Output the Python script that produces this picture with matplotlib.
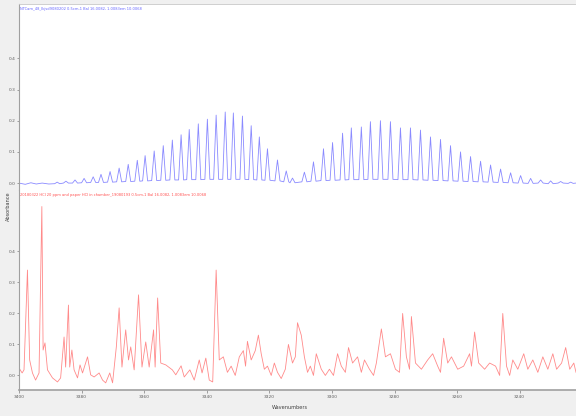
import matplotlib
matplotlib.use("Agg")
import matplotlib.pyplot as plt

# top spectrum (blue): peak centres, peak heights, baseline level around each peak
blue_wn = [3387.8, 3385.0, 3382.1, 3379.2, 3376.3, 3373.8, 3370.9, 3368.0, 3365.1, 3362.2,
           3359.7, 3356.8, 3353.9, 3351.0, 3348.2, 3345.6, 3342.7, 3339.8, 3337.0, 3334.1,
           3331.5, 3328.6, 3325.8, 3323.2, 3320.6, 3317.4, 3314.6, 3312.6,
           3308.8, 3305.9, 3302.7, 3299.8, 3296.6, 3293.8, 3290.6, 3287.7, 3284.5, 3281.3,
           3278.1, 3274.9, 3271.7, 3268.5, 3265.3, 3262.1, 3258.9, 3255.7, 3252.5, 3249.3,
           3246.1, 3242.9, 3239.7, 3236.5, 3233.3, 3230.1, 3226.9, 3223.7]
blue_h = [0.003, 0.006, 0.010, 0.015, 0.020, 0.028, 0.037, 0.048, 0.060, 0.073,
          0.088, 0.103, 0.120, 0.138, 0.155, 0.172, 0.190, 0.205, 0.218, 0.228,
          0.225, 0.215, 0.184, 0.148, 0.110, 0.074, 0.039, 0.016,
          0.035, 0.068, 0.110, 0.130, 0.160, 0.177, 0.180, 0.197, 0.200, 0.197,
          0.177, 0.177, 0.170, 0.148, 0.140, 0.120, 0.100, 0.085, 0.070, 0.058,
          0.045, 0.033, 0.024, 0.015, 0.010, 0.007, 0.005, 0.003]
blue_base = [-0.002, 0.000, 0.000, 0.001, 0.002, 0.002, 0.003, 0.004, 0.005, 0.006,
             0.007, 0.008, 0.009, 0.010, 0.010, 0.011, 0.011, 0.012, 0.012, 0.012,
             0.012, 0.012, 0.011, 0.010, 0.009, 0.007, 0.004, 0.001,
             0.004, 0.006, 0.008, 0.009, 0.010, 0.011, 0.011, 0.012, 0.012, 0.012,
             0.011, 0.011, 0.010, 0.009, 0.008, 0.007, 0.006, 0.005, 0.004, 0.003,
             0.002, 0.001, 0.000, -0.001, 0.000, -0.002, 0.000, -0.001]
blue_lead_wn = [3400.0, 3398.0, 3396.2, 3394.5, 3392.6, 3390.5]
blue_lead_abs = [0.000, -0.004, 0.001, -0.003, 0.000, -0.003]

# bottom spectrum (red), traced vertex by vertex
red_wn = [3400.0, 3399.0, 3398.4, 3397.3, 3396.6, 3395.7, 3394.7, 3393.6, 3392.7, 3392.3,
          3391.7, 3390.9, 3389.3, 3387.7, 3386.7, 3385.6, 3385.1, 3384.2, 3383.8, 3383.1,
          3382.4, 3381.3, 3380.5, 3379.7, 3378.1, 3377.1, 3376.0, 3374.4, 3373.3, 3372.3,
          3371.0, 3370.1, 3368.9, 3368.0, 3367.1, 3365.9, 3365.0, 3364.3, 3363.2, 3361.8,
          3360.7, 3359.5, 3358.4, 3357.0, 3356.5, 3355.7, 3354.7, 3353.1, 3351.0, 3349.9,
          3348.2, 3347.2, 3345.4, 3344.0, 3342.4, 3341.5, 3340.3, 3339.2, 3338.1, 3337.0,
          3336.0, 3334.7, 3333.4, 3332.2, 3330.9, 3329.6, 3328.3, 3327.6, 3327.0, 3325.8,
          3324.5, 3323.5, 3322.6, 3321.6, 3320.6, 3319.4, 3318.4, 3317.4, 3316.2, 3314.9,
          3313.9, 3312.6, 3311.7, 3311.0, 3309.8, 3308.8, 3307.8, 3306.9, 3305.9, 3305.0,
          3303.4, 3302.1, 3300.8, 3299.5, 3298.2, 3297.0, 3295.7, 3294.7, 3293.4, 3291.8,
          3290.6, 3289.6, 3288.0, 3286.7, 3285.8, 3284.2, 3282.9, 3281.3, 3279.7, 3278.4,
          3277.4, 3276.2, 3275.2, 3274.6, 3273.3, 3271.4, 3269.4, 3267.8, 3266.2, 3265.3,
          3264.3, 3263.0, 3261.8, 3259.8, 3257.9, 3256.0, 3255.4, 3254.4, 3253.1, 3251.2,
          3249.6, 3247.7, 3246.4, 3245.4, 3244.2, 3243.2, 3242.2, 3240.6, 3238.7, 3237.4,
          3235.8, 3234.2, 3232.6, 3231.0, 3229.4, 3228.2, 3226.6, 3225.3, 3224.0, 3222.7,
          3222.0]
red_abs = [0.024, 0.008, 0.018, 0.340, 0.050, 0.008, -0.015, 0.008, 0.545, 0.082,
           0.105, 0.018, -0.008, -0.021, -0.008, 0.124, 0.027, 0.227, 0.027, 0.082,
           0.018, -0.008, 0.034, 0.008, 0.060, 0.002, -0.005, 0.008, -0.015, -0.024,
           0.008, -0.024, 0.092, 0.218, 0.027, 0.147, 0.050, 0.092, 0.018, 0.260,
           0.027, 0.108, 0.027, 0.147, 0.027, 0.250, 0.040, 0.034, 0.018, 0.002,
           0.031, -0.005, 0.018, -0.015, 0.050, 0.008, 0.056, -0.015, -0.021, 0.340,
           0.050, 0.060, 0.010, 0.030, 0.000, 0.060, 0.080, 0.030, 0.110, 0.050,
           0.080, 0.130, 0.070, 0.020, 0.030, 0.000, 0.040, 0.010, -0.010, 0.020,
           0.100, 0.040, 0.060, 0.170, 0.130, 0.060, 0.010, 0.030, 0.000, 0.070,
           0.020, 0.000, 0.020, 0.000, 0.070, 0.030, 0.010, 0.090, 0.040, 0.060,
           0.010, 0.050, 0.020, 0.000, 0.040, 0.150, 0.060, 0.070, 0.020, 0.010,
           0.200, 0.060, 0.020, 0.190, 0.040, 0.020, 0.050, 0.070, 0.030, 0.010,
           0.120, 0.040, 0.060, 0.020, 0.030, 0.070, 0.030, 0.140, 0.040, 0.020,
           0.040, 0.030, 0.000, 0.200, 0.030, 0.000, 0.050, 0.020, 0.070, 0.020,
           0.050, 0.010, 0.060, 0.020, 0.070, 0.020, 0.040, 0.090, 0.020, 0.040,
           0.010]

blue_title = "NTCam_48_lkjsd9080202 0.5cm-1 Bal 16.0082, 1.0083em 10.0068"
red_title = "20180322 HCl 20 ppm and paper HCl in chamber_19080193 0.5cm-1 Bal 16.0082, 1.0083em 10.0068"
xticks = [3400, 3380, 3360, 3340, 3320, 3300, 3280, 3260, 3240]
yticks = [0.0, 0.1, 0.2, 0.3, 0.4]

# build the blue trace: narrow spikes on a slowly varying baseline
half = 0.8
bx = list(blue_lead_wn)
by = list(blue_lead_abs)
for c, h, b in zip(blue_wn, blue_h, blue_base):
    bx += [c + half, c, c - half]
    by += [b, h, b]
bx.append(3222.0)
by.append(0.000)

fig = plt.figure(figsize=(5.76, 4.16), dpi=100, facecolor='#f0f0f0')
ax1 = fig.add_axes([0.033, 0.543, 0.967, 0.447])
ax2 = fig.add_axes([0.033, 0.0625, 0.967, 0.4805], sharex=ax1)

ax1.plot(bx, by, color='#8a8aff', lw=0.6)
ax2.plot(red_wn, red_abs, color='#ff8a8a', lw=0.6)

ax1.set_xlim(3400, 3222)
ax1.set_ylim(-0.0226, 0.574)
ax2.set_ylim(-0.047, 0.598)

for ax in (ax1, ax2):
    ax.set_facecolor('white')
    ax.set_yticks(yticks)
    ax.set_yticklabels(["%.1f" % v for v in yticks])
    ax.tick_params(axis='y', length=1.5, width=0.4, colors='#606060', labelsize=3.2, pad=1)
    ax.spines['right'].set_visible(False)
    ax.spines['left'].set_color('#a0a0a0')
    ax.spines['left'].set_linewidth(0.8)

ax1.spines['bottom'].set_visible(False)
ax1.spines['top'].set_color('#c8c8c8')
ax1.spines['top'].set_linewidth(0.6)
ax1.tick_params(axis='x', bottom=False, labelbottom=False)
ax2.spines['top'].set_visible(False)
ax2.spines['bottom'].set_color('#a0a0a0')
ax2.spines['bottom'].set_linewidth(1.2)
ax2.set_xticks(xticks)
ax2.set_xticklabels([str(v) for v in xticks])
ax2.tick_params(axis='x', length=2, width=0.4, colors='#606060', labelsize=3.2, pad=1.5)

ax1.text(0.002, 0.985, blue_title, transform=ax1.transAxes, color='#6666ff', fontsize=2.6, va='top', ha='left')
ax2.text(0.002, 0.985, red_title, transform=ax2.transAxes, color='#ff5050', fontsize=2.6, va='top', ha='left')

fig.text(0.503, 0.021, "Wavenumbers", fontsize=3.6, color='#404040', ha='center', va='center')
fig.text(0.014, 0.505, "Absorbance", fontsize=3.6, color='#404040', rotation=90, ha='center', va='center')

fig.savefig("out.png", dpi=100, facecolor=fig.get_facecolor())
